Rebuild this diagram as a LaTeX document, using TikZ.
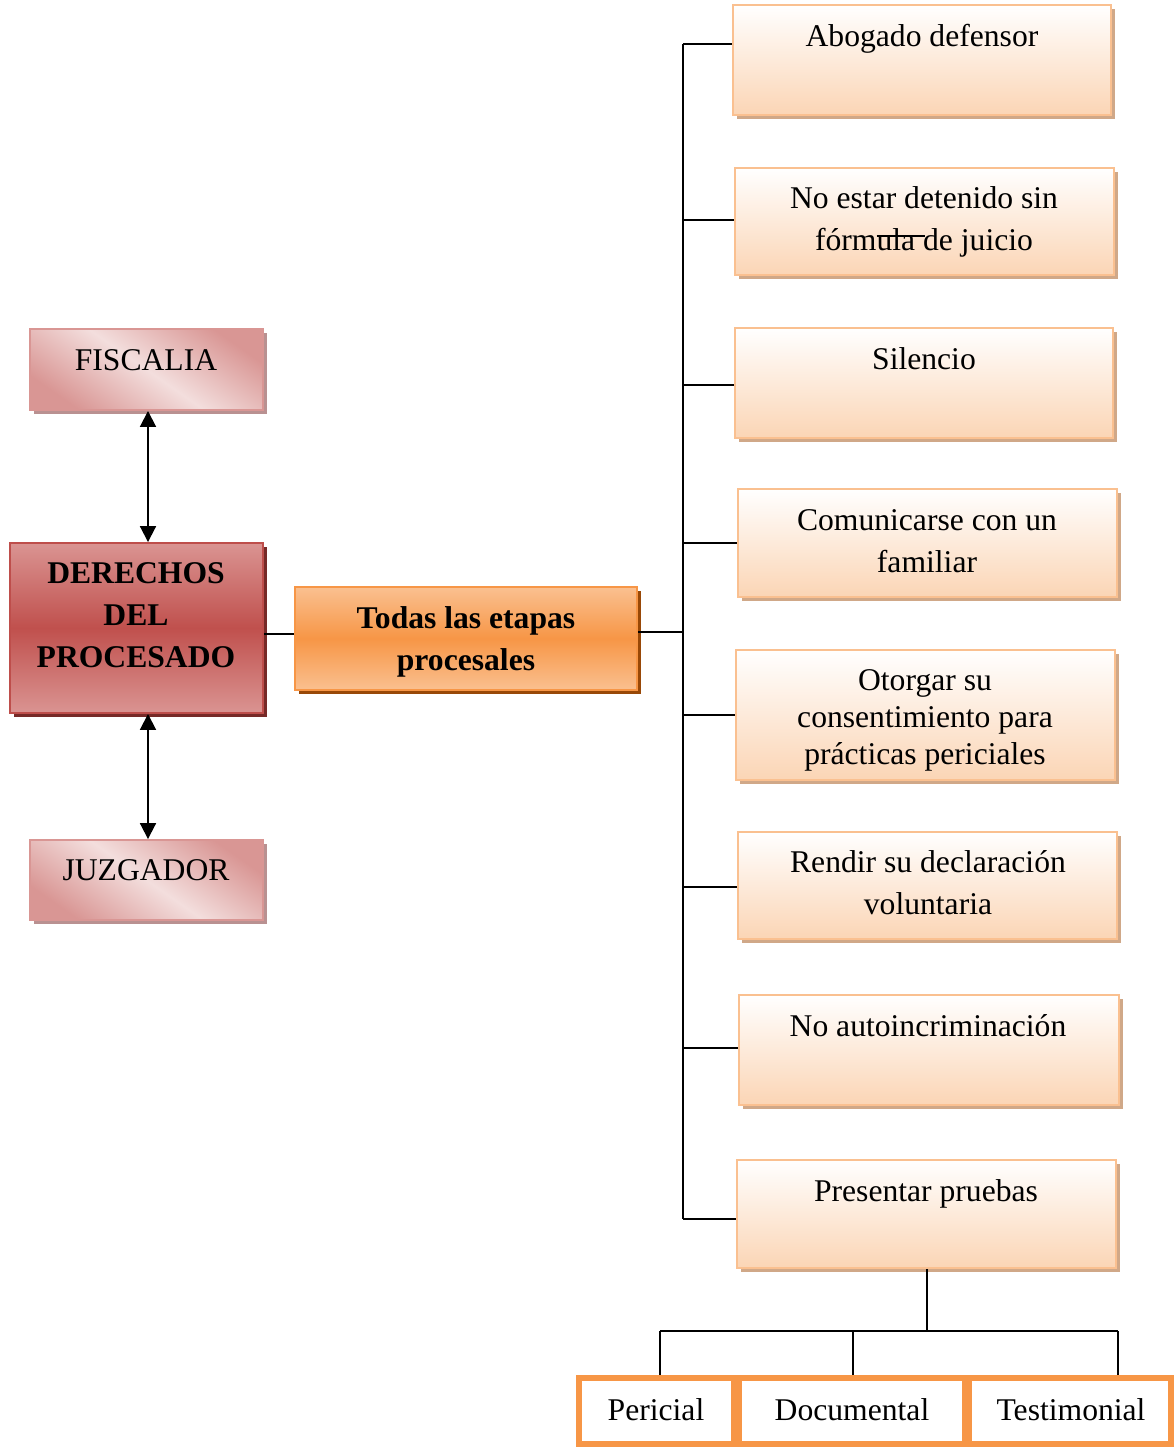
\documentclass[tikz,border=0pt]{standalone}
\usepackage{fontspec}
\setmainfont{Liberation Serif}
\usetikzlibrary{arrows.meta,shadows}

\definecolor{peach}{RGB}{251,213,181}
\definecolor{peachline}{RGB}{250,192,144}
\definecolor{peachshadow}{RGB}{208,168,136}
\definecolor{pinkdark}{RGB}{217,150,148}
\definecolor{pinklight}{RGB}{243,222,221}
\definecolor{pinkshadow}{RGB}{185,145,145}
\definecolor{redmid}{RGB}{192,80,77}
\definecolor{redlight}{RGB}{218,148,146}
\definecolor{redline}{RGB}{190,78,75}
\definecolor{redshadow}{RGB}{118,42,40}
\definecolor{orangemid}{RGB}{247,150,70}
\definecolor{orangelight}{RGB}{250,192,144}
\definecolor{orangeshadow}{RGB}{152,72,7}

% box placed by its corners (x1,y1) (x2,y2)
\newcommand\cornerbox[6]{%
  \node[#1, minimum width={(#4-#2)*0.02cm}, minimum height={(#5-#3)*0.02cm}]
    (#6) at ({(#2+#4)/2},{(#3+#5)/2}) {};}

\begin{document}
\begin{tikzpicture}[x=0.02cm,y=-0.02cm,
  basebox/.style={rectangle, inner sep=0pt, line width=1.1pt},
  rightbox/.style={basebox, draw=peachline, top color=white, bottom color=peach,
    drop shadow={shadow xshift=0.08cm, shadow yshift=-0.08cm, fill=peachshadow, opacity=1}},
  pinkbox/.style={basebox, draw=pinkdark, top color=pinkdark, bottom color=pinkdark,
    middle color=pinklight, shading angle=-35,
    drop shadow={shadow xshift=0.08cm, shadow yshift=-0.08cm, fill=pinkshadow, opacity=1}},
  mainbox/.style={basebox, draw=redline, top color=redlight, bottom color=redlight,
    middle color=redmid,
    drop shadow={shadow xshift=0.08cm, shadow yshift=-0.08cm, fill=redshadow, opacity=1}},
  stagebox/.style={basebox, draw=orangemid, top color=orangelight, bottom color=orangelight,
    middle color=orangemid,
    drop shadow={shadow xshift=0.08cm, shadow yshift=-0.08cm, fill=orangeshadow, opacity=1}},
  proofbox/.style={rectangle, inner sep=0pt, draw=orangemid, fill=white, line width=3.4pt},
  txt/.style={inner sep=0pt, align=center, font=\fontsize{18}{23.8}\selectfont},
  txtb/.style={txt, font=\fontsize{18}{23.8}\selectfont\bfseries},
  wire/.style={line width=1.1pt, black},
  biarrow/.style={line width=1.1pt, {Triangle[length=9pt,width=9pt]}-{Triangle[length=9pt,width=9pt]}}
]
\useasboundingbox (0,0) rectangle (1175,1448);

% left column
\cornerbox{pinkbox}{30}{329}{263}{410}{fis}
\cornerbox{mainbox}{10}{543}{263}{713}{der}
\cornerbox{pinkbox}{30}{840}{263}{920}{juz}
\cornerbox{stagebox}{295}{587}{637}{690}{todas}

\node[txt, anchor=base] (tfis) at (146,370) {FISCALIA};
\node[txt, anchor=base] (tjuz) at (146,880) {JUZGADOR};
\node[txtb, anchor=base] (tder1) at (136,583) {DERECHOS};
\node[txtb, anchor=base] (tder2) at (136,625) {DEL};
\node[txtb, anchor=base] (tder3) at (136,667) {PROCESADO};
\node[txtb, anchor=base] (ttod1) at (466,628) {Todas las etapas};
\node[txtb, anchor=base] (ttod2) at (466,670) {procesales};

% rights column
\cornerbox{rightbox}{733}{5}{1111}{115}{b1}
\cornerbox{rightbox}{735}{168}{1114}{275}{b2}
\cornerbox{rightbox}{735}{328}{1113}{438}{b3}
\cornerbox{rightbox}{738}{489}{1117}{597}{b4}
\cornerbox{rightbox}{736}{650}{1115}{780}{b5}
\cornerbox{rightbox}{738}{832}{1117}{939}{b6}
\cornerbox{rightbox}{739}{995}{1119}{1105}{b7}
\cornerbox{rightbox}{737}{1160}{1116}{1268}{b8}

\node[txt, anchor=base] (t1) at (922,46) {Abogado defensor};
\node[txt, anchor=base] (t2a) at (924,208) {No estar detenido sin};
\node[txt, anchor=base] (t2b) at (924,250) {fórmula de juicio};
\node[txt, anchor=base] (t3) at (924,369) {Silencio};
\node[txt, anchor=base] (t4a) at (927,530) {Comunicarse con un};
\node[txt, anchor=base] (t4b) at (927,572) {familiar};
\node[txt, anchor=base] (t5a) at (925,690) {Otorgar su};
\node[txt, anchor=base] (t5b) at (925,727) {consentimiento para};
\node[txt, anchor=base] (t5c) at (925,764) {prácticas periciales};
\node[txt, anchor=base] (t6a) at (928,872) {Rendir su declaración};
\node[txt, anchor=base] (t6b) at (928,914) {voluntaria};
\node[txt, anchor=base] (t7) at (928,1036) {No autoincriminación};
\node[txt, anchor=base] (t8) at (926,1201) {Presentar pruebas};

% stray stroke over the second line of box 2
\draw[line width=0.9pt] (877,236) -- (925,236);

% kinds of evidence
\cornerbox{proofbox}{579}{1378}{734}{1444}{p1}
\cornerbox{proofbox}{739}{1378}{965}{1444}{p2}
\cornerbox{proofbox}{969}{1378}{1171}{1444}{p3}
\node[txt, anchor=base] (tp1) at (656,1420) {Pericial};
\node[txt, anchor=base] (tp2) at (852,1420) {Documental};
\node[txt, anchor=base] (tp3) at (1071,1420) {Testimonial};

% connectors
\coordinate (ax) at (148,0);
\draw[biarrow] (fis.south -| ax) -- (der.north -| ax);
\draw[biarrow] (der.south -| ax) -- (juz.north -| ax);

\coordinate (y634) at (0,634);
\draw[wire] (der.east |- y634) -- (todas.west |- y634);

\coordinate (s1) at (683,44);
\coordinate (s2) at (683,220);
\coordinate (s3) at (683,385);
\coordinate (s4) at (683,543);
\coordinate (s5) at (683,715);
\coordinate (s6) at (683,887);
\coordinate (s7) at (683,1048);
\coordinate (s8) at (683,1219);
\coordinate (sm) at (683,632);
\draw[wire] (s1) -- (s8);
\draw[wire] (todas.east |- sm) -- (sm);
\draw[wire] (s1) -- (b1.west |- s1);
\draw[wire] (s2) -- (b2.west |- s2);
\draw[wire] (s3) -- (b3.west |- s3);
\draw[wire] (s4) -- (b4.west |- s4);
\draw[wire] (s5) -- (b5.west |- s5);
\draw[wire] (s6) -- (b6.west |- s6);
\draw[wire] (s7) -- (b7.west |- s7);
\draw[wire] (s8) -- (b8.west |- s8);

\coordinate (k0) at (927,1331);
\coordinate (k1) at (660,1331);
\coordinate (k2) at (853,1331);
\coordinate (k3) at (1118,1331);
\draw[wire] (b8.south -| k0) -- (k0);
\draw[wire] (k1) -- (k3);
\draw[wire] (k1) -- (k1 |- p1.north);
\draw[wire] (k2) -- (k2 |- p2.north);
\draw[wire] (k3) -- (k3 |- p3.north);
\end{tikzpicture}
\end{document}
